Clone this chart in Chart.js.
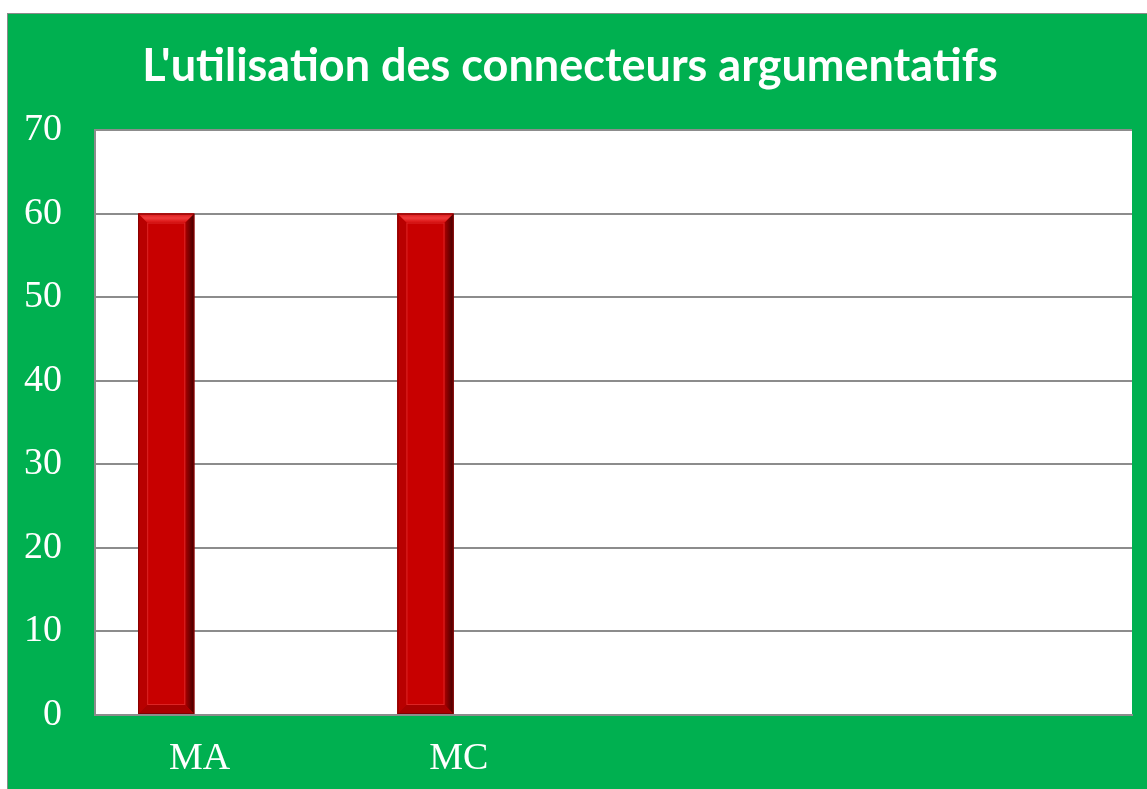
<!DOCTYPE html>
<html>
<head>
<meta charset="utf-8">
<script src="https://cdn.jsdelivr.net/npm/chart.js@4/dist/chart.umd.min.js"></script>
<style>
html,body{margin:0;padding:0;background:#fff;}
#wrap{position:absolute;left:7px;top:13px;width:1140px;height:776px;border-left:1px solid #8a8a8a;border-top:1px solid #8a8a8a;}
canvas{display:block;}
</style>
</head>
<body>
<div id="wrap"><canvas id="c" width="1140" height="776"></canvas></div>
<script>
const titleText = "L'utilisation des connecteurs argumentatifs";
const categories = ['MA', 'MC', '', ''];
const serie1 = [60, 60, null, null];
const serie2 = [null, null, null, null];
const serie3 = [null, null, null, null];
const yTicks = [0, 10, 20, 30, 40, 50, 60, 70];

const GREEN = '#00B050';
const GRID = '#8c8c8c';

const bgPlugin = {
  id: 'bg',
  beforeDraw(chart) {
    const {ctx, chartArea: a} = chart;
    ctx.save();
    ctx.fillStyle = GREEN;
    ctx.fillRect(0, 0, chart.width, chart.height);
    ctx.fillStyle = '#ffffff';
    ctx.fillRect(a.left, a.top, a.right - a.left, a.bottom - a.top);
    ctx.restore();
  }
};

const bevelPlugin = {
  id: 'bevel',
  afterDatasetsDraw(chart) {
    const ctx = chart.ctx;
    chart.data.datasets.forEach((ds, di) => {
      const meta = chart.getDatasetMeta(di);
      meta.data.forEach((bar, i) => {
        if (ds.data[i] == null) return;
        const p = bar.getProps(['x', 'y', 'width', 'base'], true);
        const l = p.x - p.width / 2, r = p.x + p.width / 2, t = p.y, b = p.base;
        const bv = 9;
        ctx.save();
        ctx.fillStyle = '#c80000';
        ctx.fillRect(l, t, r - l, b - t);
        ctx.fillStyle = '#b80000';
        ctx.beginPath(); ctx.moveTo(l, t); ctx.lineTo(l + bv, t + bv); ctx.lineTo(l + bv, b - bv); ctx.lineTo(l, b); ctx.closePath(); ctx.fill();
        let g = ctx.createLinearGradient(r - bv, 0, r, 0);
        g.addColorStop(0, '#a80000'); g.addColorStop(1, '#400000');
        ctx.fillStyle = g;
        ctx.beginPath(); ctx.moveTo(r, t); ctx.lineTo(r - bv, t + bv); ctx.lineTo(r - bv, b - bv); ctx.lineTo(r, b); ctx.closePath(); ctx.fill();
        g = ctx.createLinearGradient(0, t, 0, t + bv);
        g.addColorStop(0, '#d81818'); g.addColorStop(0.5, '#ee3a3a'); g.addColorStop(1, '#d81010');
        ctx.fillStyle = g;
        ctx.beginPath(); ctx.moveTo(l, t); ctx.lineTo(r, t); ctx.lineTo(r - bv, t + bv); ctx.lineTo(l + bv, t + bv); ctx.closePath(); ctx.fill();
        ctx.fillStyle = '#a80000';
        ctx.beginPath(); ctx.moveTo(l, b); ctx.lineTo(r, b); ctx.lineTo(r - bv, b - bv); ctx.lineTo(l + bv, b - bv); ctx.closePath(); ctx.fill();
        ctx.strokeStyle = '#dc2424';
        ctx.lineWidth = 1;
        ctx.strokeRect(l + bv + 0.5, t + bv + 0.5, r - l - 2 * bv - 1, b - t - 2 * bv - 1);
        ctx.strokeStyle = '#800000';
        ctx.strokeRect(l + 0.5, t + 0.5, r - l - 1, b - t - 1);
        ctx.restore();
      });
    });
  }
};

const mk = (label, data) => ({
  label, data,
  backgroundColor: '#c80000',
  borderWidth: 0,
  categoryPercentage: 0.676,
  barPercentage: 0.96
});

new Chart(document.getElementById('c'), {
  type: 'bar',
  data: {
    labels: categories,
    datasets: [mk('Série 1', serie1), mk('Série 2', serie2), mk('Série 3', serie3)]
  },
  options: {
    responsive: false,
    animation: false,
    layout: { padding: { left: 0, right: 16, top: 0, bottom: 0 } },
    plugins: {
      legend: { display: false },
      tooltip: { enabled: false },
      title: {
        display: true,
        text: titleText,
        color: '#ffffff',
        font: { family: 'Lato', size: 45, weight: 'bold' },
        padding: { top: 25, bottom: 37 }
      }
    },
    scales: {
      x: {
        grid: { display: false, drawTicks: false },
        border: { display: true, color: GRID, width: 2 },
        ticks: {
          color: '#ffffff',
          font: { family: 'Liberation Serif', size: 38 },
          padding: 21,
          labelOffset: -25,
          maxRotation: 0
        },
        afterFit(s) { s.height = 75; }
      },
      y: {
        min: 0, max: 70,
        afterBuildTicks(s) { s.ticks = yTicks.map(v => ({ value: v })); },
        grid: { color: GRID, lineWidth: 2, drawTicks: false },
        border: { display: true, color: GRID, width: 2 },
        ticks: {
          color: '#ffffff',
          font: { family: 'Liberation Serif', size: 38 },
          padding: 33
        },
        afterFit(s) { s.width = 87; }
      }
    }
  },
  plugins: [bgPlugin, bevelPlugin]
});
</script>
</body>
</html>
